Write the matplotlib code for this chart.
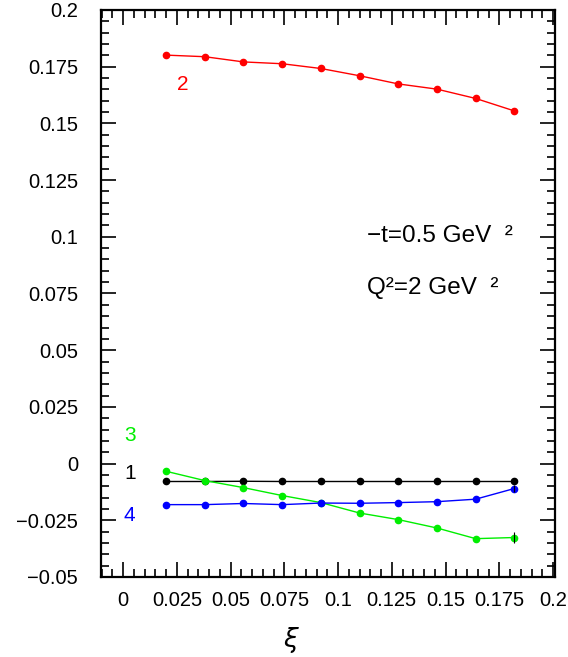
import matplotlib
matplotlib.use("Agg")
import matplotlib.pyplot as plt
from matplotlib.ticker import MultipleLocator

plt.rcParams['font.family'] = ['Liberation Sans', 'DejaVu Sans']

xi = [0.020, 0.038, 0.056, 0.074, 0.092, 0.110, 0.128, 0.146, 0.164, 0.182]
curve1 = [-0.0079, -0.0079, -0.0078, -0.0079, -0.0079, -0.0079, -0.0079, -0.0079, -0.0079, -0.0079]
curve2 = [0.1801, 0.1794, 0.1771, 0.1763, 0.1742, 0.1710, 0.1674, 0.1651, 0.1610, 0.1555]
curve3 = [-0.0034, -0.0075, -0.0106, -0.0141, -0.0172, -0.0218, -0.0247, -0.0284, -0.0331, -0.0326]
curve4 = [-0.0181, -0.0181, -0.0176, -0.0181, -0.0174, -0.0175, -0.0172, -0.0168, -0.0157, -0.0110]
err3_last = 0.0025
err4_last = 0.0015

fig = plt.figure(figsize=(5.68, 6.57), dpi=100)
ax = fig.add_axes([0.1778, 0.1218, 0.7992, 0.8630])

series = [(curve1, 'black'), (curve2, '#ff0000'), (curve3, '#00ee00'), (curve4, '#0000ff')]
for ys, c in series:
    ax.plot(xi, ys, '-', color=c, lw=1.0, marker='o', ms=4.5, mec=c, mfc=c)

ax.errorbar([xi[-1]], [curve3[-1]], yerr=[err3_last], fmt='none', ecolor='black', elinewidth=0.8, capsize=0)
ax.errorbar([xi[-1]], [curve4[-1]], yerr=[err4_last], fmt='none', ecolor='black', elinewidth=0.8, capsize=0)

ax.set_xlim(-0.0103, 0.2009)
ax.set_ylim(-0.05, 0.2)
ax.xaxis.set_major_locator(MultipleLocator(0.025))
ax.xaxis.set_minor_locator(MultipleLocator(0.005))
ax.yaxis.set_major_locator(MultipleLocator(0.025))
ax.yaxis.set_minor_locator(MultipleLocator(0.005))

xticks = [0, 0.025, 0.05, 0.075, 0.1, 0.125, 0.15, 0.175, 0.2]
xticklabels = ['0', '0.025', '0.05', '0.075', '0.1', '0.125', '0.15', '0.175', '0.2']
yticks = [-0.05, -0.025, 0, 0.025, 0.05, 0.075, 0.1, 0.125, 0.15, 0.175, 0.2]
yticklabels = ['\u22120.05', '\u22120.025', '0', '0.025', '0.05', '0.075', '0.1', '0.125', '0.15', '0.175', '0.2']
ax.set_xticks(xticks)
ax.set_xticklabels(xticklabels)
ax.set_yticks(yticks)
ax.set_yticklabels(yticklabels)

ax.tick_params(which='both', direction='in', top=True, right=True, width=1.2, colors='black')
ax.tick_params(which='major', length=11)
ax.tick_params(which='minor', length=6)
ax.tick_params(axis='y', which='major', pad=16.5, labelsize=14.5)
ax.tick_params(axis='x', which='major', pad=10, labelsize=14.5)
for s in ax.spines.values():
    s.set_linewidth(1.6)

fig.text(291 / 568, 1 - 640 / 657, r'$\xi$', fontsize=19, ha='center', va='center')

ax.text(0.0278, 0.1673, '2', color='#ff0000', fontsize=15, ha='center', va='center')
ax.text(0.0031, 0.0125, '3', color='#00ee00', fontsize=15, ha='center', va='center')
ax.text(0.0031, -0.0043, '1', color='black', fontsize=15, ha='center', va='center')
ax.text(0.0031, -0.0228, '4', color='#0000ff', fontsize=15, ha='center', va='center')

ax.text(0.1135, 0.1003, '\u2212t=0.5 GeV  \u00b2', fontsize=17.5, ha='left', va='center')
ax.text(0.1135, 0.0773, 'Q\u00b2=2 GeV  \u00b2', fontsize=17.5, ha='left', va='center')

fig.savefig('out.png', dpi=100)
